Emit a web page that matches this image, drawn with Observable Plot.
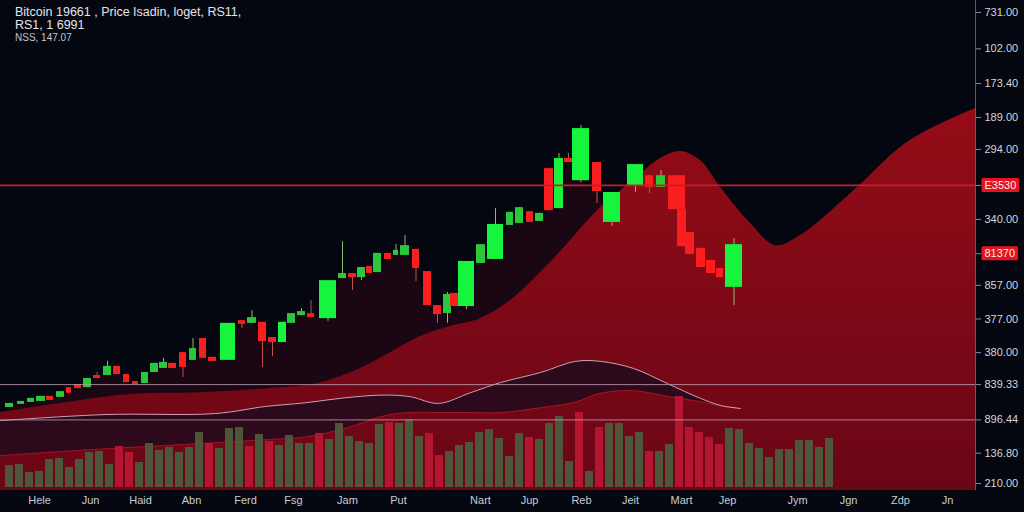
<!DOCTYPE html>
<html><head><meta charset="utf-8">
<script src="https://cdn.jsdelivr.net/npm/d3@7"></script>
<script src="https://cdn.jsdelivr.net/npm/@observablehq/plot@0.6"></script>
<style>
html,body{margin:0;padding:0;background:#04070f;}
#chart{position:relative;width:1024px;height:512px;overflow:hidden;background:#04070f;}
#chart svg{position:absolute;left:0;top:0;}
#title{position:absolute;left:15px;top:5px;z-index:5;font-family:"Liberation Sans",Arial,sans-serif;color:#e4e4ec;}
#title .l1{font-size:12.5px;line-height:14px;}
#title .l2{font-size:12.5px;line-height:13px;}
#title .l3{font-size:10px;line-height:11px;color:#c4c4cc;}
</style></head><body>
<svg width="0" height="0" style="position:absolute"><defs>
<linearGradient id="gA" x1="0" y1="0" x2="0" y2="1"><stop offset="0" stop-color="#940c16"/><stop offset="1" stop-color="#690616"/></linearGradient>
</defs></svg>
<div id="chart">
  <div id="title"><div class="l1">Bitcoin 19661 , Price Isadin, loget, RS11,</div><div class="l2">RS1, 1 6991</div><div class="l3">NSS, 147.07</div></div>
</div>
<script>
// ---- data ----
const candleT0 = [0,1.2,2.2,3.1,4.1,5.1,6.1,6.9,7.8,8.8,9.8,10.8,11.8,12.7,13.6,14.5,15.4,16.3,17.4,18.4,19.4,20.3,21.5,23.3,24.2,25.3,26.3,27.3,28.2,29.2,30.2,31.4,33.3,34.3,35.2,36.1,36.8,37.9,38.8,39.5,40.7,41.8,42.8,43.8,44.5,45.3,47.1,48.2,50.1,51.0,52.1,53.0,53.9,54.9,55.9,56.7,58.7,59.8,62.2,64.0,65.1,66.3,67.2,68.0,69.1,70.1,71.1,72.0];
const candleT1 = [0.8,1.9,2.9,4.0,4.8,5.9,6.6,7.6,8.6,9.5,10.6,11.5,12.4,13.3,14.3,15.3,16.2,17.1,18.1,19.1,20.1,21.1,23.0,24.0,25.1,26.1,27.1,28.1,29.0,30.0,30.9,33.1,34.1,35.1,36.0,36.7,37.6,38.6,39.3,40.4,41.4,42.6,43.6,44.6,45.3,46.9,48.0,49.8,50.8,51.8,52.8,53.8,54.8,55.8,56.7,58.4,59.6,61.5,63.8,64.8,66.0,68.0,68.1,68.9,70.0,71.0,71.8,73.7];
const candleOpen = [22.6,23.5,24.1,24.4,25.9,25.6,28.5,29.4,28.5,32.1,32.1,34.8,32.4,30.3,29.7,33.0,34.2,35.7,38.9,36.6,43.1,37.5,36.6,48.4,47.6,47.9,43.4,41.9,47.6,49.9,50.5,49.0,60.9,62.4,61.2,64.5,62.7,68.4,67.8,67.8,69.6,63.0,52.9,50.5,56.5,52.6,65.4,66.6,76.7,77.3,80.8,77.9,93.6,81.7,96.6,90.0,95.4,77.6,88.3,91.5,88.0,91.5,81.4,74.6,69.9,66.3,63.9,58.3];
const candleClose = [23.8,24.4,25.3,25.9,24.7,27.3,26.8,28.2,31.2,31.2,34.8,32.4,30.0,29.4,33.0,35.7,36.0,34.2,34.5,40.1,37.2,36.3,47.6,47.3,49.3,42.2,41.9,47.9,50.5,51.1,49.3,60.3,62.4,61.2,64.2,62.4,68.4,66.6,69.3,70.7,63.9,52.9,50.2,56.2,52.6,66.0,71.0,77.0,80.6,82.0,77.6,80.3,81.1,96.6,95.4,105.5,86.8,86.5,94.8,88.0,91.5,81.4,70.4,68.1,64.2,62.4,61.2,71.0];
const candleHigh = [23.8,24.4,25.3,25.9,25.9,27.3,28.5,29.4,31.2,33.0,36.3,34.8,32.4,30.3,33.0,35.7,37.2,35.7,38.9,43.1,43.1,37.5,47.6,48.4,51.4,47.9,43.4,47.9,50.5,52.0,54.4,60.3,71.9,62.4,64.2,64.5,68.4,68.4,71.0,73.7,69.6,63.0,52.9,56.8,56.5,66.0,71.0,81.7,80.6,82.0,80.8,80.3,93.6,98.1,98.1,106.4,95.4,86.5,94.8,91.5,93.0,91.5,81.4,74.6,69.9,66.3,63.9,72.8];
const candleLow = [22.6,23.5,24.1,24.4,24.7,25.6,26.8,28.2,28.5,31.2,32.1,32.4,30.0,29.4,29.7,33.0,34.2,34.2,31.5,36.6,37.2,36.3,36.6,46.1,47.6,34.5,37.7,41.9,47.6,49.9,49.3,48.2,60.9,57.4,60.3,62.4,62.7,66.6,67.8,67.8,60.0,52.9,47.6,47.6,52.6,51.7,65.4,66.6,76.7,77.3,77.6,77.9,81.1,81.7,95.4,89.4,83.2,76.4,86.5,86.2,88.0,81.4,70.4,68.1,64.2,62.4,61.2,52.9];

const volume = [22,23,15,16,28,29,20,28,35,36,23,41,35,25,44,37,40,35,40,55,44,39,59,60,41,53,46,42,52,44,44,54,48,64,51,46,44,63,65,64,68,51,54,32,36,42,45,55,58,49,31,54,50,48,64,71,26,75,16,60,64,64,51,55,36,36,43,91,60,55,50,43,59,58,44,39,30,38,38,47,47,40,49];
const volumeDown = [0,0,0,0,0,0,0,0,0,0,0,1,1,0,0,0,0,0,0,0,1,0,0,0,1,0,1,0,0,0,0,1,0,0,0,0,0,0,1,0,0,0,1,1,0,0,0,0,0,0,0,0,1,0,0,0,0,1,0,1,0,0,0,0,1,0,0,1,1,1,1,1,0,0,0,0,0,0,0,0,0,0,0];

// big red cloud (upper edge)
const cloudX = [-0.5,6.2,12.8,19.5,26.2,31.2,35.5,38.5,41.5,44.5,47.5,50.5,54.5,59.5,62.8,65.5,67.5,69.5,71.5,74.5,77.0,79.5,85.2,89.5,92.8,97.0];
const cloudY = [21.1,24.1,26.5,27.0,28.2,29.7,34.2,38.9,43.7,46.7,49.0,54.4,65.7,82.0,90.1,96.6,98.7,96.0,88.0,77.3,70.7,73.7,88.0,99.9,105.8,111.5];
// dark band (RSI-like lens)
const bandX = [-0.5,10,21,26,30,34,38,40.5,43.3,46.5,49.5,53.5,57,59.5,62.8,66.2,69.5,71.5,73.5];
const bandHi = [18.7,20.5,20.8,22.9,24.0,25.5,26.3,25.8,23.8,27.0,30.0,33.0,36.3,36.3,34.2,29.7,25.3,23.2,22.3];
const bandLo = [8.3,10.3,12.1,13.0,13.8,16.4,20.2,21.1,21.1,21.1,21.1,22.5,24.2,26.8,27.6,25.9,24.3,23.1,22.3];

const yTickVals = [0,9,18.9,29.4,38.9,48.9,58.9,68.3,78.5,88.6,99.3,108.8,118.9,129.2,140];
const yTickLabels = ["210.00","136.80","896.44","839.33","380.00","377.00","857.00","81370","340.00","E3530","294.00","189.00","173.40","102.00","731.00"];
const yTickRed = ["81370","E3530"];
const xTickVals = [3.4,8.5,13.5,18.6,24.0,28.8,34.2,39.3,47.5,52.4,57.6,62.5,67.6,72.2,79.2,84.3,89.5,94.2];
const xTickLabels = ["Hele","Jun","Haid","Abn","Ferd","Fsg","Jam","Put","Nart","Jup","Reb","Jeit","Mart","Jep","Jym","Jgn","Zdp","Jn"];
const levelLines = [29.4, 18.9];
const alertLevel = 88.6;

// ---- build ----
const xDomain = [-0.5, 97.0];
const yDomain = [-2.08, 143.57];
const base = {width:1024, height:512, marginLeft:0, marginRight:49, marginTop:0, marginBottom:22};
const font = '"Liberation Sans", Arial, sans-serif';

const candles = candleT0.map((t0,i)=>({t0, t1:candleT1[i], tm:(t0+candleT1[i])/2, open:candleOpen[i], close:candleClose[i], high:candleHigh[i], low:candleLow[i]}));
const up = d => d.close >= d.open;
const big = d => Math.abs(d.close - d.open) >= 6;
const cloud = cloudX.map((d,i)=>({d, p:cloudY[i]}));
const band = bandX.map((d,i)=>({d, hi:bandHi[i], lo:bandLo[i]}));
const vols = volume.map((v,i)=>({i, v, down:volumeDown[i]===1}));

const chart = document.getElementById("chart");

const p1 = Plot.plot({...base,
  style:{background:"#04070f"},
  x:{domain:xDomain, axis:null}, y:{domain:yDomain, axis:null},
  marks:[
    Plot.areaY(candles, {x:"tm", y1:yDomain[0], y2:d=>Math.min(d.open,d.close), curve:"monotone-x", fill:"#1b0613"}),
    Plot.areaY(cloud, {x:"d", y1:yDomain[0], y2:"p", curve:"catmull-rom", fill:"url(#gA)"}),
    Plot.areaY(band, {x:"d", y1:"lo", y2:"hi", curve:"catmull-rom", fill:"#2c0a1c"}),
    Plot.line(band, {x:"d", y:"lo", curve:"catmull-rom", stroke:"#c01a30", strokeOpacity:0.6, strokeWidth:1}),
    Plot.line(band, {x:"d", y:"hi", curve:"catmull-rom", stroke:"#d8a2b4", strokeWidth:1}),
    Plot.ruleX(candles.filter(up), {x:"tm", y1:"low", y2:"high", stroke:"#8fb870", strokeWidth:1}),
    Plot.ruleX(candles.filter(d=>!up(d)), {x:"tm", y1:"low", y2:"high", stroke:"#c05048", strokeWidth:1}),
    Plot.rect(candles.filter(d=>up(d)&&big(d)), {x1:"t0", x2:"t1", y1:"open", y2:"close", fill:"#16f43e"}),
    Plot.rect(candles.filter(d=>up(d)&&!big(d)), {x1:"t0", x2:"t1", y1:"open", y2:"close", fill:"#2cc83c"}),
    Plot.rect(candles.filter(d=>!up(d)), {x1:"t0", x2:"t1", y1:"open", y2:"close", fill:"#fb1e1e"})
  ]});
chart.appendChild(p1);

const p2 = Plot.plot({...base, marginTop:387, marginBottom:25,
  style:{background:"transparent"},
  x:{domain:xDomain, axis:null}, y:{domain:[0,100], axis:null},
  marks:[
    Plot.rectY(vols.filter(d=>!d.down), {x1:"i", x2:d=>d.i+0.8, y:"v", fill:"#4e5538"}),
    Plot.rectY(vols.filter(d=>d.down), {x1:"i", x2:d=>d.i+0.8, y:"v", fill:"#b3162e"})
  ]});
chart.appendChild(p2);

const yLab = new Map(yTickVals.map((v,i)=>[v, yTickLabels[i]]));
const xLab = new Map(xTickVals.map((v,i)=>[v, xTickLabels[i]]));
const p3 = Plot.plot({...base,
  style:{background:"transparent", color:"#d4d4dc", fontSize:"11px", fontFamily:font},
  x:{domain:xDomain}, y:{domain:yDomain},
  marks:[
    Plot.ruleY(levelLines, {stroke:"#b59aab", strokeOpacity:0.85, strokeWidth:1}),
    Plot.ruleY([alertLevel], {stroke:"#c41e2e", strokeWidth:1.7}),
    Plot.ruleX([xDomain[1]], {stroke:"#5c5c6a", strokeWidth:1}),
    Plot.axisY({anchor:"right", ticks:yTickVals, tickFormat:d=>yLab.get(d), tickSize:5, tickPadding:4, stroke:"#8a8a96", fill:"#d4d4dc", label:null}),
    Plot.axisX({ticks:xTickVals, tickFormat:d=>xLab.get(d), tickSize:0, tickPadding:6, fill:"#c8ccd6", label:null})
  ]});
chart.appendChild(p3);

// red badges behind highlighted price labels
p3.querySelectorAll('g[aria-label="y-axis tick label"] text').forEach(t=>{
  if (yTickRed.includes(t.textContent)) {
    const b = t.getBBox();
    const r = document.createElementNS("http://www.w3.org/2000/svg","rect");
    r.setAttribute("x", b.x-3); r.setAttribute("y", b.y-1);
    r.setAttribute("width", b.width+6); r.setAttribute("height", b.height+2);
    r.setAttribute("rx", 1.5); r.setAttribute("fill", "#e3141f");
    if (t.getAttribute("transform")) r.setAttribute("transform", t.getAttribute("transform"));
    t.parentNode.insertBefore(r, t);
    t.setAttribute("fill", "#ffe8e8");
  }
});
</script>
</body></html>
